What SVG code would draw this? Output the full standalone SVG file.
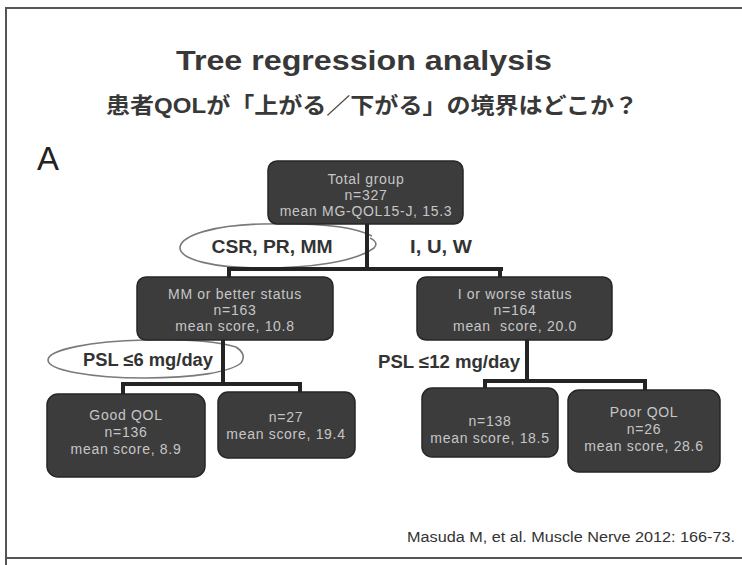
<svg xmlns="http://www.w3.org/2000/svg" width="742" height="565" viewBox="0 0 742 565">
  <style>
    .frame { stroke: #555; stroke-width: 2; fill: none; }
    .title { font-family: "Liberation Sans", "Noto Sans CJK JP", sans-serif; font-weight: bold; fill: #383838; }
    .box { fill: #3c3c3c; stroke: #262626; stroke-width: 1.5; }
    .nt { font-family: "Liberation Sans", Arial, sans-serif; font-size: 14px; letter-spacing: 0.7px; fill: #c6c6c6; text-anchor: middle; }
    .wire { stroke: #242424; stroke-width: 4; fill: none; stroke-linecap: square; }
    .ring { stroke: #7a7a7a; stroke-width: 1.6; fill: none; }
    .lbl { font-family: "Liberation Sans", Arial, sans-serif; font-size: 18px; font-weight: bold; fill: #333; text-anchor: middle; }
  </style>

  <rect width="742" height="565" fill="#fff"/>

  <!-- slide frame -->
  <path class="frame" d="M742 8 H6 V565 M6 558 H742"/>

  <!-- headings -->
  <text class="title" x="364" y="70" font-size="27" text-anchor="middle" textLength="376" lengthAdjust="spacingAndGlyphs">Tree regression analysis</text>
  <text class="title" x="372" y="113" font-size="22" text-anchor="middle" textLength="532" lengthAdjust="spacingAndGlyphs">患者QOLが「上がる／下がる」の境界はどこか？</text>
  <text x="37" y="170" font-family="Liberation Sans, Arial, sans-serif" font-size="33" fill="#222">A</text>

  <!-- split-condition rings (drawn under the connectors) -->
  <g id="split-labels">
    <path class="ring" d="M372 236 C350 224 300 223 262 224 C215 225 182 235 180 247 C179 260 215 268 262 268 C310 268 355 262 374 248 C378 244 375 240 370 238"/>
    <path class="ring" d="M236 347 C215 341 180 339 145 340 C90 341 48 350 48 360 C48 370 90 378 145 378 C195 378 230 372 241 363 C246 356 242 351 236 347"/>
  </g>

  <!-- connectors -->
  <g id="connectors">
    <path class="wire" d="M367 224 V269 M229 269 H501 M229 269 V277 M500 269 V277"/>
    <path class="wire" d="M223 340 V384 M123 384 H300 M123 384 V394 M300 384 V392"/>
    <path class="wire" d="M527 340 V381 M485 381 H645 M485 381 V388 M645 381 V390"/>
  </g>

  <!-- edge labels -->
  <text class="lbl" x="272" y="253" textLength="121" lengthAdjust="spacingAndGlyphs">CSR, PR, MM</text>
  <text class="lbl" x="441" y="253" textLength="62" lengthAdjust="spacingAndGlyphs">I, U, W</text>
  <text class="lbl" x="148" y="366" textLength="130" lengthAdjust="spacingAndGlyphs">PSL ≤6 mg/day</text>
  <text class="lbl" x="449" y="368" textLength="142" lengthAdjust="spacingAndGlyphs">PSL ≤12 mg/day</text>

  <!-- tree nodes -->
  <g id="node-total">
    <rect class="box" x="268" y="161" width="195" height="63" rx="9"/>
    <text class="nt" x="366" y="184">Total group</text>
    <text class="nt" x="366" y="200">n=327</text>
    <text class="nt" x="366" y="216">mean MG-QOL15-J, 15.3</text>
  </g>

  <g id="node-mm-better">
    <rect class="box" x="137" y="277" width="196" height="63" rx="9"/>
    <text class="nt" x="235" y="299">MM or better status</text>
    <text class="nt" x="235" y="315">n=163</text>
    <text class="nt" x="235" y="331">mean score, 10.8</text>
  </g>

  <g id="node-i-worse">
    <rect class="box" x="417" y="277" width="195" height="63" rx="9"/>
    <text class="nt" x="515" y="299">I or worse status</text>
    <text class="nt" x="515" y="315">n=164</text>
    <text class="nt" x="515" y="331" xml:space="preserve">mean  score, 20.0</text>
  </g>

  <g id="node-good-qol">
    <rect class="box" x="47" y="394" width="158" height="83" rx="11"/>
    <text class="nt" x="126" y="420">Good QOL</text>
    <text class="nt" x="126" y="437">n=136</text>
    <text class="nt" x="126" y="454">mean score, 8.9</text>
  </g>

  <g id="node-n27">
    <rect class="box" x="218" y="392" width="137" height="66" rx="10"/>
    <text class="nt" x="286" y="422">n=27</text>
    <text class="nt" x="286" y="439">mean score, 19.4</text>
  </g>

  <g id="node-n138">
    <rect class="box" x="422" y="388" width="136" height="69" rx="10"/>
    <text class="nt" x="490" y="426">n=138</text>
    <text class="nt" x="490" y="443">mean score, 18.5</text>
  </g>

  <g id="node-poor-qol">
    <rect class="box" x="568" y="390" width="152" height="82" rx="11"/>
    <text class="nt" x="644" y="417">Poor QOL</text>
    <text class="nt" x="644" y="434">n=26</text>
    <text class="nt" x="644" y="451">mean score, 28.6</text>
  </g>

  <!-- reference line -->
  <text x="735" y="542" font-family="Liberation Sans, Arial, sans-serif" font-size="14" fill="#333" text-anchor="end" textLength="328" lengthAdjust="spacingAndGlyphs">Masuda M, et al. Muscle Nerve 2012: 166-73.</text>
</svg>
